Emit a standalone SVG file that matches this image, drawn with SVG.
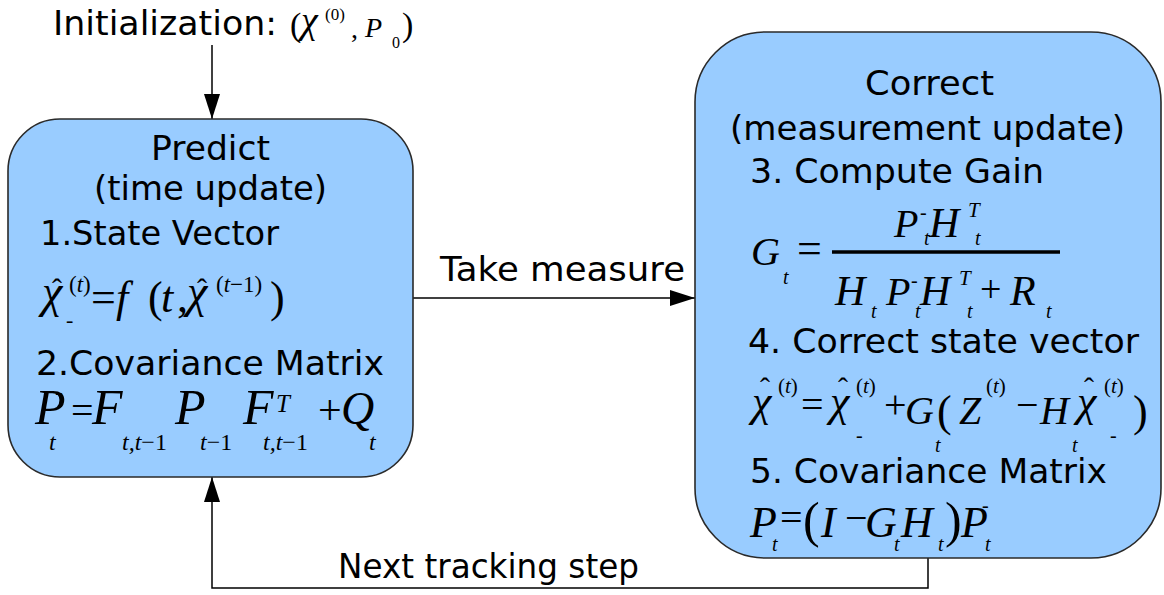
<svg xmlns="http://www.w3.org/2000/svg" width="1164" height="595" viewBox="0 0 1164 595">
<defs>
<style>
.box{fill:#99ccff;stroke:#2a2a2a;stroke-width:1.6}
.lbl{font-family:"DejaVu Sans","Liberation Sans",sans-serif;font-size:34px;fill:#000}
.mid{text-anchor:middle}
.m{font-family:"Liberation Serif","DejaVu Serif",serif;font-style:italic;fill:#000}
.u{font-style:normal}
.conn{fill:none;stroke:#000;stroke-width:1.5}
</style>
<marker id="arr" markerUnits="userSpaceOnUse" markerWidth="26" markerHeight="16" refX="25" refY="8" orient="auto">
<path d="M0,0 L25,8 L0,16 z" fill="#000"/>
</marker>
</defs>
<rect width="1164" height="595" fill="#fff"/>

<g id="connectors">
<line class="conn" x1="212" y1="45" x2="212" y2="119" marker-end="url(#arr)"/>
<line class="conn" x1="413" y1="298" x2="695" y2="298" marker-end="url(#arr)"/>
<path class="conn" d="M928,558 V588 H212 V477" marker-end="url(#arr)"/>
<text class="lbl" x="440" y="281" textLength="245" lengthAdjust="spacingAndGlyphs">Take measure</text>
<text class="lbl" x="338" y="578" textLength="301" lengthAdjust="spacingAndGlyphs">Next tracking step</text>
</g>

<g id="init">
<text class="lbl" x="53" y="35" textLength="224" lengthAdjust="spacingAndGlyphs">Initialization:</text>
<text class="m" font-size="28"><tspan class="u" x="290" y="36" font-size="34">(</tspan><tspan x="301" y="33" font-size="38">χ</tspan><tspan class="u" x="325" y="20" font-size="17">(0)</tspan><tspan class="u" x="351" y="38">,</tspan><tspan x="365" y="37">P</tspan><tspan class="u" x="392" y="48" font-size="16">0</tspan><tspan class="u" x="402" y="36" font-size="34">)</tspan></text>
</g>

<g id="predict">
<rect class="box" x="8" y="119" width="405" height="358" rx="52" ry="52"/>
<text class="lbl mid" x="210.5" y="160" textLength="119" lengthAdjust="spacingAndGlyphs">Predict</text>
<text class="lbl mid" x="210.5" y="200" textLength="233" lengthAdjust="spacingAndGlyphs">(time update)</text>
<text class="lbl" x="40" y="245" textLength="239" lengthAdjust="spacingAndGlyphs">1.State Vector</text>
<text class="m" font-size="44"><tspan class="u" x="52" y="299" font-size="30">ˆ</tspan><tspan x="42" y="307" font-size="46">χ</tspan><tspan x="69" y="292" font-size="23"><tspan class="u">(</tspan>t<tspan class="u">)</tspan></tspan><tspan class="u" x="66" y="327" font-size="22">-</tspan><tspan class="u" x="91" y="312">=</tspan><tspan x="116" y="312">f</tspan><tspan class="u" x="148" y="312">(</tspan><tspan x="161" y="312">t</tspan><tspan class="u" x="177" y="312">,</tspan><tspan class="u" x="197" y="299" font-size="30">ˆ</tspan><tspan x="187" y="307" font-size="46">χ</tspan><tspan x="216" y="292" font-size="23"><tspan class="u">(</tspan>t<tspan class="u">−1)</tspan></tspan><tspan class="u" x="270" y="312">)</tspan></text>
<text class="lbl" x="36" y="375" textLength="348" lengthAdjust="spacingAndGlyphs">2.Covariance Matrix</text>
<text class="m" font-size="50"><tspan x="35" y="424">P</tspan><tspan class="u" x="55" y="400" font-size="24">-</tspan><tspan x="49" y="450" font-size="24">t</tspan><tspan class="u" x="71" y="424" font-size="40">=</tspan><tspan x="92" y="424">F</tspan><tspan x="122" y="450" font-size="24">t,t<tspan class="u">−1</tspan></tspan><tspan x="175" y="424">P</tspan><tspan x="200" y="450" font-size="24">t<tspan class="u">−1</tspan></tspan><tspan x="243" y="424">F</tspan><tspan x="276" y="412" font-size="25">T</tspan><tspan x="263" y="450" font-size="24">t,t<tspan class="u">−1</tspan></tspan><tspan class="u" x="318" y="424" font-size="42">+</tspan><tspan x="341" y="424" font-size="46">Q</tspan><tspan x="369" y="450" font-size="24">t</tspan></text>
</g>

<g id="correct">
<rect class="box" x="695" y="32" width="466" height="526" rx="70" ry="70"/>
<text class="lbl mid" x="929.5" y="95" textLength="129" lengthAdjust="spacingAndGlyphs">Correct</text>
<text class="lbl mid" x="927.5" y="140" textLength="395" lengthAdjust="spacingAndGlyphs">(measurement update)</text>
<text class="lbl" x="750" y="183" textLength="294" lengthAdjust="spacingAndGlyphs">3. Compute Gain</text>
<line x1="832" y1="252" x2="1060" y2="252" stroke="#000" stroke-width="3.5"/>
<text class="m" font-size="40"><tspan x="751" y="265">G</tspan><tspan x="783" y="284" font-size="20">t</tspan><tspan class="u" x="797" y="263" font-size="44">=</tspan><tspan x="894" y="237">P</tspan><tspan class="u" x="920" y="219" font-size="20">-</tspan><tspan x="924" y="245" font-size="20">t</tspan><tspan x="929" y="237" font-size="42">H</tspan><tspan x="968" y="217" font-size="21">T</tspan><tspan x="975" y="245" font-size="20">t</tspan><tspan x="835" y="305" font-size="42">H</tspan><tspan x="871" y="318" font-size="20">t</tspan><tspan x="886" y="305">P</tspan><tspan class="u" x="911" y="287" font-size="20">-</tspan><tspan x="915" y="318" font-size="20">t</tspan><tspan x="920" y="305" font-size="42">H</tspan><tspan x="959" y="285" font-size="21">T</tspan><tspan x="967" y="318" font-size="20">t</tspan><tspan class="u" x="980" y="302" font-size="38">+</tspan><tspan x="1010" y="305" font-size="42">R</tspan><tspan x="1046" y="318" font-size="20">t</tspan></text>
<text class="lbl" x="748" y="353" textLength="391" lengthAdjust="spacingAndGlyphs">4. Correct state vector</text>
<text class="m" font-size="40"><tspan class="u" x="760" y="398" font-size="30">ˆ</tspan><tspan x="752" y="416" font-size="44">χ</tspan><tspan x="778" y="393" font-size="21"><tspan class="u">(</tspan>t<tspan class="u">)</tspan></tspan><tspan class="u" x="801" y="418">=</tspan><tspan class="u" x="838" y="398" font-size="30">ˆ</tspan><tspan x="830" y="416" font-size="44">χ</tspan><tspan x="856" y="393" font-size="21"><tspan class="u">(</tspan>t<tspan class="u">)</tspan></tspan><tspan class="u" x="856" y="442" font-size="20">-</tspan><tspan class="u" x="884" y="418">+</tspan><tspan x="905" y="424">G</tspan><tspan x="935" y="452" font-size="20">t</tspan><tspan class="u" x="937" y="426" font-size="44">(</tspan><tspan x="959" y="424">Z</tspan><tspan x="986" y="393" font-size="21"><tspan class="u">(</tspan>t<tspan class="u">)</tspan></tspan><tspan class="u" x="1016" y="418">−</tspan><tspan x="1040" y="424">H</tspan><tspan x="1072" y="452" font-size="20">t</tspan><tspan class="u" x="1084" y="398" font-size="30">ˆ</tspan><tspan x="1077" y="416" font-size="44">χ</tspan><tspan x="1104" y="393" font-size="21"><tspan class="u">(</tspan>t<tspan class="u">)</tspan></tspan><tspan class="u" x="1110" y="442" font-size="20">-</tspan><tspan class="u" x="1133" y="426" font-size="44">)</tspan></text>
<text class="lbl" x="750" y="483" textLength="357" lengthAdjust="spacingAndGlyphs">5. Covariance Matrix</text>
<text class="m" font-size="44"><tspan x="750" y="537">P</tspan><tspan x="772" y="551" font-size="20">t</tspan><tspan class="u" x="780" y="531" font-size="40">=</tspan><tspan class="u" x="803" y="537" font-size="50">(</tspan><tspan x="821" y="537">I</tspan><tspan class="u" x="845" y="531" font-size="40">−</tspan><tspan x="865" y="537">G</tspan><tspan x="894" y="551" font-size="20">t</tspan><tspan x="901" y="537">H</tspan><tspan x="938" y="551" font-size="20">t</tspan><tspan class="u" x="945" y="537" font-size="50">)</tspan><tspan x="961" y="537">P</tspan><tspan class="u" x="982" y="512" font-size="20">-</tspan><tspan x="985" y="551" font-size="20">t</tspan></text>
</g>
</svg>
